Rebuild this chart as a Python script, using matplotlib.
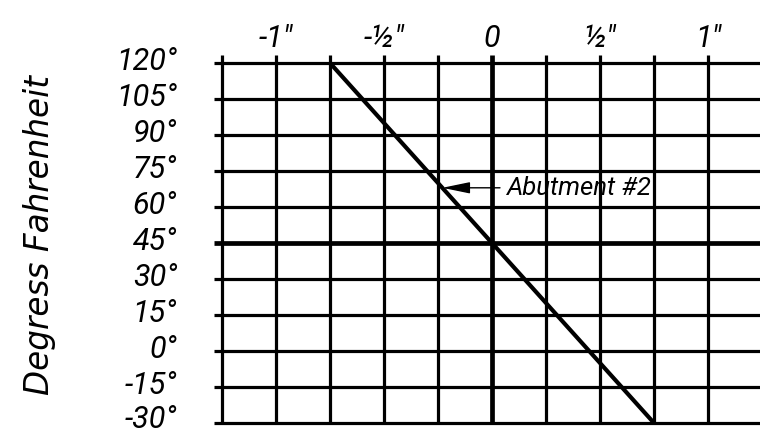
import numpy as np
import matplotlib
matplotlib.use("Agg")
import matplotlib.pyplot as plt

# chart data
movement_ticks = [-1.25, -1.0, -0.75, -0.5, -0.25, 0.0, 0.25, 0.5, 0.75, 1.0, 1.25]
movement_labels = {-1.0: '-1"', -0.5: '-\u00bd"', 0.0: '0', 0.5: '\u00bd"', 1.0: '1"'}
temp_ticks = [120, 105, 90, 75, 60, 45, 30, 15, 0, -15, -30]
temp_labels = ["120\u00b0", "105\u00b0", "90\u00b0", "75\u00b0", "60\u00b0", "45\u00b0",
               "30\u00b0", "15\u00b0", "0\u00b0", "-15\u00b0", "-30\u00b0"]
abutment_move = [-0.75, 0.75]
abutment_temp = [120, -30]
callout_temp = 68
callout_text = "Abutment #2"
ylabel = "Degress Fahrenheit"

# scale: 216 px per inch, 2.4 px per degree
PX_IN = 216.0
PX_DEG = 2.4
EXT = 8  # px the grid lines run past the edge

plt.rcParams['font.family'] = ['Roboto', 'DejaVu Sans']
font = dict(style='italic', weight='normal', color='black')

W, H = 760, 434
fig = plt.figure(figsize=(W / 100, H / 100), dpi=100)
# axes spans 214..760 px horizontally, 55..423 px from top
ax = fig.add_axes([214 / W, (H - 423) / H, (W - 214) / W, (423 - 55) / H])
ax.set_xlim(-1.25 - EXT / PX_IN, (W - 492) / PX_IN)
ax.set_ylim(-30, 120 + EXT / PX_DEG)
ax.axis('off')

xmin, xmax = ax.get_xlim()
ymin, ymax = ax.get_ylim()

for x in movement_ticks:
    lw = 3.4 if x == 0 else 2.3
    ax.plot([x, x], [ymin, ymax], color='black', lw=lw, solid_capstyle='butt',
            clip_on=False, zorder=2)
for t in temp_ticks:
    lw = 3.4 if t == 45 else 2.3
    ax.plot([xmin, movement_ticks[-1]], [t, t], color='black', lw=lw,
            solid_capstyle='butt', clip_on=False, zorder=2)

ax.plot(abutment_move, abutment_temp, color='black', lw=3.0,
        solid_capstyle='butt', zorder=3)

# callout
tip_x = np.interp(callout_temp, abutment_temp[::-1], abutment_move[::-1])
tail_x = 8 / PX_IN
ax.annotate("", xy=(tip_x, callout_temp), xytext=(tail_x, callout_temp),
            arrowprops=dict(arrowstyle="-|>,head_length=1.7,head_width=0.35",
                            mutation_scale=10, color='black', lw=1.0,
                            shrinkA=0, shrinkB=0), zorder=4)
ax.text(14 / PX_IN, callout_temp, callout_text, ha='left', va='center',
        fontsize=18.5, zorder=4, **font)

# tick labels (nudged up a little, the lowest one more so it fits)
for t, lab in zip(temp_ticks, temp_labels):
    shift = 4 if t == temp_ticks[-1] else 1.5
    ax.text(-1.25 - 45 / PX_IN, t + shift / PX_DEG, lab, ha='right', va='center',
            fontsize=22, clip_on=False, **font)
for x, lab in movement_labels.items():
    ax.text(x, 120 + 16 / PX_DEG, lab, ha='center', va='baseline',
            fontsize=22, clip_on=False, **font)

fig.text(40 / W, 1 - 235 / H, ylabel, rotation=90, ha='center', va='center',
         fontsize=23.5, family='DejaVu Sans', style='oblique', color='black')

fig.savefig("out.png", dpi=100)
